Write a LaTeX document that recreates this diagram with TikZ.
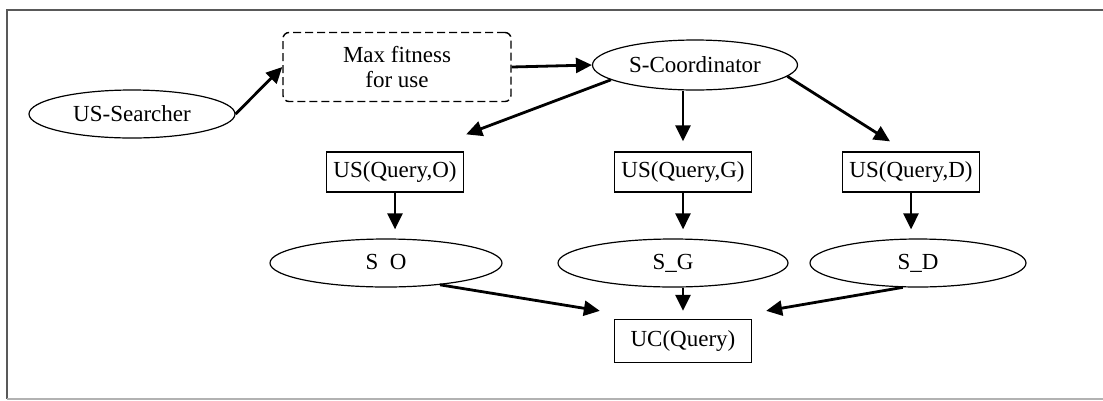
\documentclass[tikz,border=0pt]{standalone}
\usepackage{fontspec}
\setmainfont{Liberation Serif}
\usetikzlibrary{arrows.meta,calc,shapes.geometric}
\begin{document}
\begin{tikzpicture}[x=1pt,y=-1pt,
  every node/.style={font=\fontsize{23}{25}\selectfont, inner sep=0pt},
  ell/.style={draw, ellipse, line width=1.2pt, minimum height=48pt},
  rbox/.style={draw, rectangle, line width=1.3pt, minimum width=137pt, minimum height=40pt},
  arr/.style={line width=2.8pt, -{Triangle[length=16pt,width=15pt]}}]
\useasboundingbox (0,0) rectangle (1103,400);
\fill[white] (0,0) rectangle (1103,400);
\draw[black!65, line width=2pt] (1103,10) -- (7,10) -- (7,399);
\draw[black!30, line width=1.5pt] (7,399) -- (1103,399);
% nodes
\node[ell, minimum width=206pt] (srch) at (132,114) {US-Searcher};
\node[draw, rectangle, rounded corners=6pt, dashed, dash pattern=on 8pt off 4pt, line width=1.4pt,
      minimum width=228pt, minimum height=69pt, align=center] (mx) at (397,67) {Max fitness\\for use};
\node[ell, minimum width=205pt, minimum height=50pt] (sc) at (695,65) {S-Coordinator};
\node[rbox] (uso) at (395,172) {US(Query,O)};
\node[rbox] (usg) at (683,172) {US(Query,G)};
\node[rbox] (usd) at (911,172) {US(Query,D)};
\node[ell, minimum width=232pt] (so) at (386,263) {S\phantom{\_}O};
\node[ell, minimum width=230pt] (sg) at (673,263) {S\_G};
\node[ell, minimum width=216pt] (sd) at (918,263) {S\_D};
\node[rbox, minimum height=43pt] (uc) at (683,341) {UC(Query)};
% connectors
\draw[arr] (srch.east) -- (mx.west);
\draw[arr] (mx.east) -- (sc.west);
\draw[arr] (sc.190) -- ($(uso.north east)+(2,-17)$);
\draw[arr] (sc.south -| usg.north) -- ($(usg.north)+(0,-10)$);
\draw[arr] (sc.-7) -- ($(usd.north)+(-21,-10)$);
\draw[arr] (uso.south) -- ($(uso.south |- so.north)+(0,-9)$);
\draw[arr] (usg.south) -- ($(usg.south |- sg.north)+(0,-9)$);
\draw[arr] (usd.south) -- ($(usd.south |- sd.north)+(0,-9)$);
\draw[arr] (so.-22) -- ($(uc.north west)+(-14,-8)$);
\draw[arr] (sg.south -| uc.north) -- ($(uc.north)+(0,-8)$);
\draw[arr] (sd.-122) -- ($(uc.north east)+(14,-8)$);
\end{tikzpicture}
\end{document}
